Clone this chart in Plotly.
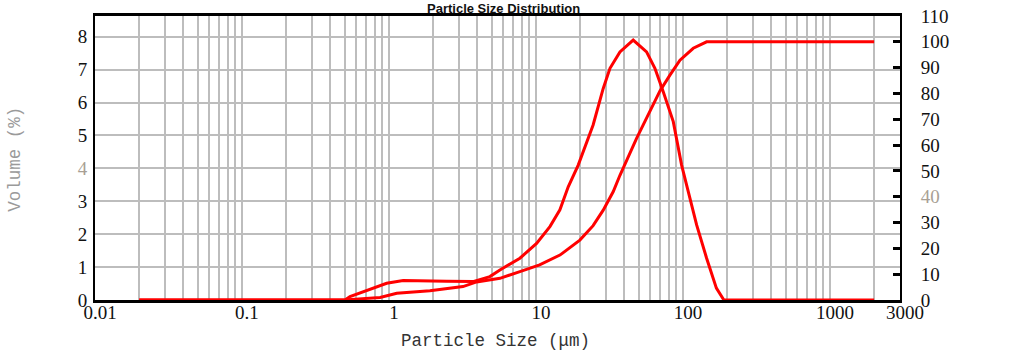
import math
import plotly.graph_objects as go

# ---- data ----
freq_size = [0.02, 0.502, 0.543, 0.782, 0.965, 1.25, 1.90, 2.47, 3.73, 4.86, 5.69, 7.78,
             10.1, 12.45, 14.56, 16.59, 19.4, 24.5, 28.7, 31.9, 37.3, 45.9, 56.6, 64.5,
             73.5, 86.0, 98.0, 108.7, 124.0, 145.0, 169.0, 190.0, 2000.0]
freq_val = [0, 0, 0.10, 0.36, 0.51, 0.59, 0.59, 0.57, 0.56, 0.71, 0.91, 1.27,
            1.72, 2.23, 2.74, 3.44, 4.10, 5.32, 6.43, 7.04, 7.54, 7.90, 7.54, 7.04,
            6.33, 5.42, 4.10, 3.29, 2.28, 1.27, 0.36, 0, 0]

cum_size = [0.02, 0.50, 0.87, 1.13, 1.90, 3.19, 3.95, 4.86, 5.69, 7.78, 10.6, 14.56,
            19.9, 24.5, 28.7, 33.6, 37.3, 48.4, 56.6, 69.8, 81.6, 95.5, 117.6, 145.0,
            169.0, 2000.0]
cum_val = [0, 0, 1.0, 2.6, 3.6, 5.2, 7.0, 7.8, 8.4, 11.0, 13.6, 17.4,
           23.2, 28.8, 34.8, 42.0, 48.3, 62.6, 70.4, 81.0, 87.1, 92.9, 97.5, 100.0,
           100.0, 100.0]

x_tickvals = [0.01, 0.1, 1, 10, 100, 1000, 3000]
x_ticktext = ["0.01", "0.1", "1", "10", "100", "1000", "3000"]
x_minor = [m * 10 ** e for e in range(-2, 4) for m in range(2, 10) if m * 10 ** e < 3000]

yl_tickvals = [0, 1, 2, 3, 4, 5, 6, 7, 8]
yl_ticktext = ["0", "1", "2", "3", '<span style="color:#a89f94">4</span>', "5", "6", "7", "8"]
yr_tickvals = [0, 10, 20, 30, 40, 50, 60, 70, 80, 90, 100, 110]
yr_ticktext = ["0", "10", "20", "30", '<span style="color:#a89f94">40</span>', "50", "60",
               "70", "80", "90", "100", "110"]

title_text = "Particle Size Distribution"
x_title = "Particle Size (μm)"
y_title = "Volume (%)"

GRID = "#bdbdbd"
RED = "#ff0000"
TICKFONT = dict(family="Liberation Serif", size=19, color="#111111")

fig = go.Figure()
fig.add_trace(go.Scatter(x=freq_size, y=freq_val, mode="lines",
                         line=dict(color=RED, width=3), yaxis="y",
                         showlegend=False, hoverinfo="skip"))
fig.add_trace(go.Scatter(x=cum_size, y=cum_val, mode="lines",
                         line=dict(color=RED, width=3), yaxis="y2",
                         showlegend=False, hoverinfo="skip"))

fig.update_layout(
    width=1010, height=352,
    margin=dict(l=95, r=110, t=16, b=52, autoexpand=False),
    paper_bgcolor="white", plot_bgcolor="white",
    xaxis=dict(
        type="log", range=[-2, math.log10(3000)], automargin=False,
        tickvals=x_tickvals, ticktext=x_ticktext,
        showgrid=True, gridcolor=GRID, gridwidth=2,
        minor=dict(tickvals=x_minor, showgrid=True, gridcolor=GRID, gridwidth=2, ticks=""),
        showline=True, linecolor="black", linewidth=3, mirror=True,
        ticks="", tickfont=TICKFONT, ticklabelshift=5, ticklabelstandoff=-7,
        zeroline=False, layer="below traces",
    ),
    yaxis=dict(
        range=[0, 8.63], tickvals=yl_tickvals, ticktext=yl_ticktext, automargin=False,
        showgrid=True, gridcolor=GRID, gridwidth=2,
        showline=True, linecolor="black", linewidth=2,
        ticks="", tickfont=TICKFONT, ticklabelstandoff=2,
        zeroline=False, layer="below traces",
    ),
    yaxis2=dict(
        overlaying="y", side="right", automargin=False,
        range=[0, 110], tickvals=yr_tickvals, ticktext=yr_ticktext,
        showgrid=False, showline=True, linecolor="black", linewidth=2,
        ticks="inside", ticklen=7, tickwidth=3, tickcolor="black",
        tickfont=TICKFONT, ticklabelstandoff=15,
        zeroline=False, layer="below traces",
    ),
    annotations=[
        dict(text="<b>" + title_text + "</b>", xref="paper", yref="paper",
             x=0.508, y=1.028, xanchor="center", yanchor="middle", showarrow=False,
             font=dict(family="Liberation Sans", size=13, color="#111111")),
        dict(text=x_title, xref="paper", yref="paper",
             x=0.497, y=-0.144, xanchor="center", yanchor="middle", showarrow=False,
             font=dict(family="Liberation Mono", size=17.5, color="#333333")),
        dict(text=y_title, xref="paper", yref="paper", textangle=-90,
             x=-0.0986, y=0.496, xanchor="center", yanchor="middle", showarrow=False,
             font=dict(family="Liberation Mono", size=17.5, color="#9a9a9a")),
    ],
)

fig.write_html("out.html")
